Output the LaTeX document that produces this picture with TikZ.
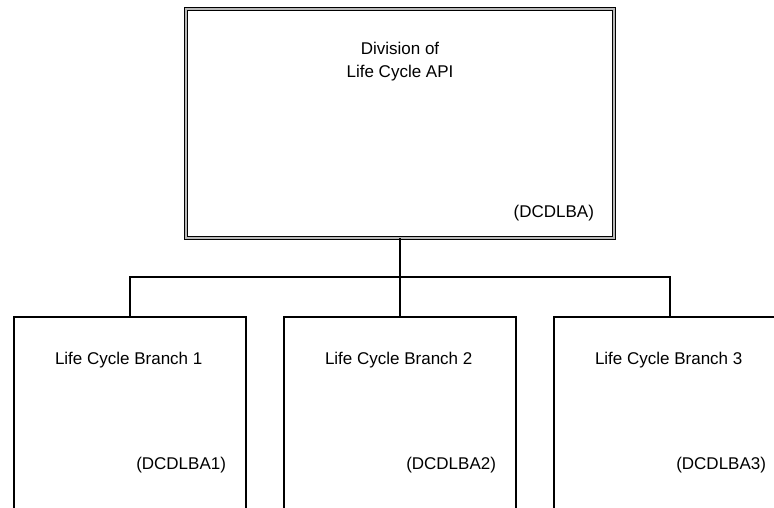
\documentclass[tikz,border=0pt]{standalone}
\usepackage{fontspec}
\setmainfont{Liberation Sans}
\begin{document}
\begin{tikzpicture}[x=1pt,y=-1pt,
  every node/.style={inner sep=0pt, outer sep=0pt},
  topbox/.style={draw=black, line width=1.5pt, double=gray!55, double distance=1.6pt,
    minimum width=428pt, minimum height=229pt},
  subbox/.style={draw=black, line width=1.4pt, minimum width=232pt, minimum height=283pt},
  lbl/.style={font=\fontsize{17}{23}\selectfont},
  conn/.style={draw=black, line width=1.4pt}]
\clip (0,0) rectangle (774,507);
\node[topbox] (top) at (400,123.5) {};
\node[subbox] (b1) at (130,458.5) {};
\node[subbox] (b2) at (400,458.5) {};
\node[subbox] (b3) at (670,458.5) {};
\coordinate (j) at (400,277);
\draw[conn] (top.south) -- (b2.north);
\draw[conn] (b1.north) |- (j) -| (b3.north);
\node[lbl, align=center, anchor=north] (ttl) at (400,42) {Division of\\Life Cycle API};
\node[lbl, anchor=base east] (tcode) at (594,217) {(DCDLBA)};
\node[lbl, anchor=base west] (t1) at (55,364) {Life Cycle Branch 1};
\node[lbl, anchor=base west] (t2) at (325,364) {Life Cycle Branch 2};
\node[lbl, anchor=base west] (t3) at (595,364) {Life Cycle Branch 3};
\node[lbl, anchor=base east] (c1) at (226,469) {(DCDLBA1)};
\node[lbl, anchor=base east] (c2) at (496,469) {(DCDLBA2)};
\node[lbl, anchor=base east] (c3) at (766,469) {(DCDLBA3)};
\end{tikzpicture}
\end{document}
